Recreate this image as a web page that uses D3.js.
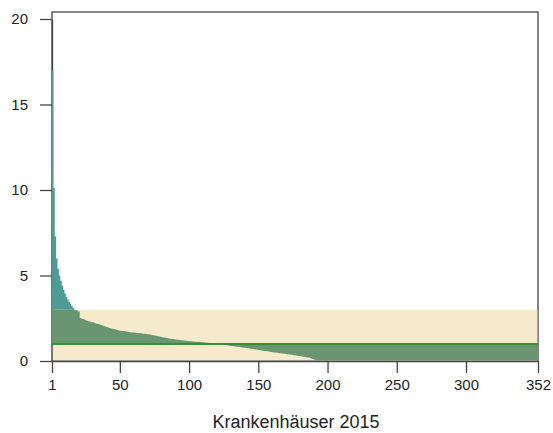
<!DOCTYPE html>
<html><head><meta charset="utf-8">
<script src="https://cdn.jsdelivr.net/npm/d3@7"></script>
<style>
body{margin:0;background:#fff;}
text{font-family:"Liberation Sans",Arial,sans-serif;fill:#222;}
</style></head>
<body><svg id="c" width="553" height="433"></svg>
<script>
// Ratio per hospital, sorted descending (hospitals 1..352)
const ratioValues = [
17.0,10.1,7.3,6.0,5.4,5.0,4.7,4.4,4.15,3.95,3.75,3.6,3.45,3.35,3.2,3.1,3.0,2.97,2.94,2.9,
2.51,2.48,2.45,2.42,2.39,2.36,2.33,2.31,2.28,2.26,2.23,2.21,2.18,2.16,2.13,2.10,2.07,2.04,2.02,1.99,
1.96,1.93,1.91,1.89,1.87,1.85,1.83,1.81,1.79,1.77,1.76,1.75,1.74,1.72,1.71,1.70,1.68,1.67,1.67,1.66,
1.65,1.64,1.64,1.63,1.62,1.61,1.60,1.59,1.58,1.57,1.56,1.54,1.52,1.50,1.49,1.47,1.45,1.44,1.42,1.40,
1.38,1.37,1.35,1.34,1.32,1.30,1.29,1.28,1.27,1.26,1.25,1.24,1.23,1.22,1.21,1.20,1.19,1.18,1.17,1.16,
1.15,1.14,1.14,1.13,1.13,1.12,1.12,1.11,1.10,1.09,1.08,1.07,1.06,1.05,1.04,1.03,1.03,1.02,1.02,1.01,
1.00,0.99,0.98,0.96,0.95,0.93,0.92,0.90,0.89,0.88,0.87,0.86,0.85,0.84,0.83,0.82,0.81,0.79,0.78,0.77,
0.76,0.75,0.74,0.72,0.71,0.70,0.68,0.67,0.66,0.64,0.63,0.62,0.60,0.59,0.58,0.57,0.55,0.54,0.52,0.51,
0.50,0.49,0.48,0.47,0.46,0.45,0.44,0.43,0.42,0.40,0.39,0.38,0.37,0.36,0.34,0.33,0.32,0.31,0.29,0.28,
0.26,0.25,0.24,0.22,0.21,0.20,0.18,0.15,0.12,0.09,0.06,
0,0,0,0,0,0,0,0,0,0,0,0,0,0,0,0,0,0,0,0,
0,0,0,0,0,0,0,0,0,0,0,0,0,0,0,0,0,0,0,0,
0,0,0,0,0,0,0,0,0,0,0,0,0,0,0,0,0,0,0,0,
0,0,0,0,0,0,0,0,0,0,0,0,0,0,0,0,0,0,0,0,
0,0,0,0,0,0,0,0,0,0,0,0,0,0,0,0,0,0,0,0,
0,0,0,0,0,0,0,0,0,0,0,0,0,0,0,0,0,0,0,0,
0,0,0,0,0,0,0,0,0,0,0,0,0,0,0,0,0,0,0,0,
0,0,0,0,0,0,0,0,0,0,0,0,0,0,0,0,0,0,0,0,
0
];
const hospitals = ratioValues.map((v,i)=>i+1);
const xTicks = [1,50,100,150,200,250,300,352];
const yTicks = [0,5,10,15,20];
const bandLow = 0, bandHigh = 3;
const refLine = 1;
const xTitle = "Krankenhäuser 2015";

const svg = d3.select("#c");
const x = d3.scaleLinear().domain([1,352]).range([52,538]);
const y = d3.scaleLinear().domain([0,20]).range([361,19]);

// frame
svg.append("rect").attr("x",52).attr("y",12).attr("width",486).attr("height",349)
  .attr("fill","none").attr("stroke","#444").attr("stroke-width",1.3);

// axes
const ya = svg.append("g").attr("transform","translate(52,0)")
  .call(d3.axisLeft(y).tickValues(yTicks).tickSize(12).tickPadding(12).tickSizeOuter(0));
const xa = svg.append("g").attr("transform","translate(0,361)")
  .call(d3.axisBottom(x).tickValues(xTicks).tickSize(12).tickPadding(6).tickSizeOuter(0));
[ya,xa].forEach(g=>{
  g.select(".domain").attr("stroke","#444").attr("stroke-width",1.3);
  g.selectAll(".tick line").attr("stroke","#444").attr("stroke-width",1.3);
  g.selectAll(".tick text").style("font-size","15px").style("font-family","'Liberation Sans',Arial,sans-serif").attr("fill","#1a1a1a");
});

// band
svg.append("rect").attr("x",x(1)+0.7).attr("y",y(bandHigh))
  .attr("width",x(352)-x(1)-1.4).attr("height",y(bandLow)-y(bandHigh)-0.7).attr("fill","#f5eacb");

const pts = hospitals.map((h,i)=>[h,ratioValues[i]]);
pts.push([352, ratioValues[ratioValues.length-1]]);
const area = d3.area().curve(d3.curveStepAfter)
  .x(d=>x(d[0])).y0(y(refLine)).y1(d=>y(d[1]));

const defs = svg.append("defs");
defs.append("clipPath").attr("id","above").append("rect")
  .attr("x",0).attr("y",0).attr("width",553).attr("height",y(bandHigh));
defs.append("clipPath").attr("id","below").append("rect")
  .attr("x",0).attr("y",y(bandHigh)).attr("width",553).attr("height",y(0)-y(bandHigh)-0.7);

svg.append("path").datum(pts).attr("d",area).attr("fill","#4f9b97").attr("clip-path","url(#above)");
svg.append("path").datum(pts).attr("d",area).attr("fill","#6a9571").attr("clip-path","url(#below)");

// reference line
svg.append("line").attr("x1",x(1)).attr("x2",x(352)).attr("y1",y(refLine)).attr("y2",y(refLine))
  .attr("stroke","#33902f").attr("stroke-width",2);

svg.append("text").attr("x",296).attr("y",428).attr("text-anchor","middle")
  .style("font-size","18px").attr("fill","#1a1a1a").text(xTitle);
</script></body></html>
